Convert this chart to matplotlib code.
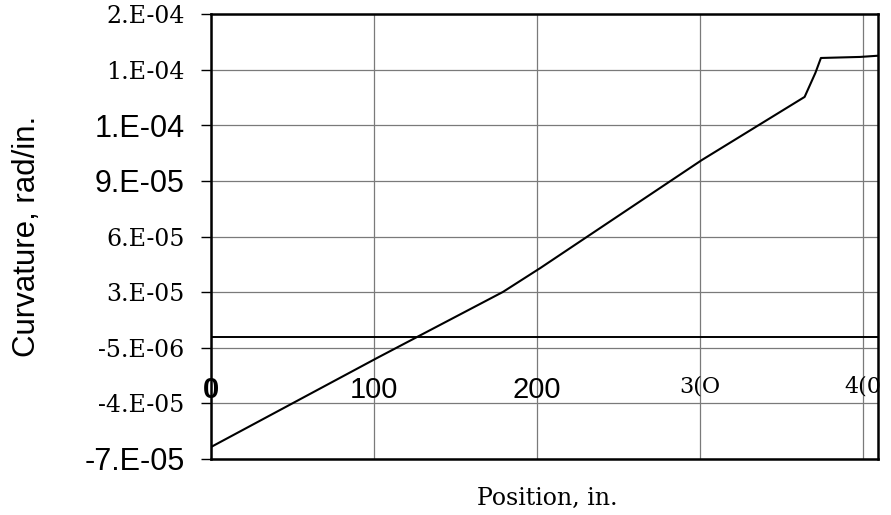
import matplotlib
matplotlib.use("Agg")
import matplotlib.pyplot as plt

# ---- data ----
position = [0, 101.8, 179, 202, 301, 364, 370.6, 374, 398, 409]
curvature = [-6.31e-5, -1.19e-5, 2.61e-5, 3.99e-5, 1.02e-4, 1.383e-4, 1.521e-4, 1.607e-4, 1.613e-4, 1.62e-4]

y_tick_values = [-7.0e-5, -3.8e-5, -6.0e-6, 2.6e-5, 5.8e-5, 9.0e-5, 1.22e-4, 1.54e-4, 1.86e-4]
y_tick_labels = ["-7.E-05", "-4.E-05", "-5.E-06", "3.E-05", "6.E-05", "9.E-05", "1.E-04", "1.E-04", "2.E-04"]
y_tick_serif = [False, True, True, True, True, False, False, True, True]

x_tick_values = [0, 100, 200, 300, 400]
x_tick_labels = ["0", "100", "200", "3(O", "4(0"]
x_tick_serif = [False, False, False, True, True]

SANS = ["Liberation Sans", "DejaVu Sans"]
SERIF = ["DejaVu Serif", "Liberation Serif"]

fig = plt.figure(figsize=(8.91, 5.15), dpi=100)
ax = fig.add_axes([211 / 891, 56 / 515, 667 / 891, 445 / 515])

ax.set_xlim(0, 409)
ax.set_ylim(y_tick_values[0], y_tick_values[-1])

# grid
ax.set_yticks(y_tick_values)
ax.set_yticklabels(y_tick_labels)
ax.set_xticks(x_tick_values)
ax.set_xticklabels(x_tick_labels)
ax.grid(True, color="#7a7a7a", linewidth=0.9)
ax.set_axisbelow(True)

# zero axis line
ax.axhline(0, color="black", linewidth=1.4, zorder=2)

# data line
ax.plot(position, curvature, color="black", linewidth=1.5, zorder=3)

for s in ax.spines.values():
    s.set_linewidth(1.8)
    s.set_color("black")

ax.tick_params(axis="y", direction="out", length=7, width=1.0, pad=12)
ax.tick_params(axis="x", length=0, pad=-60)

for lbl, serif in zip(ax.get_yticklabels(), y_tick_serif):
    if serif:
        lbl.set_fontfamily(SERIF)
        lbl.set_fontsize(17)
    else:
        lbl.set_fontfamily(SANS)
        lbl.set_fontsize(22)

for lbl, serif in zip(ax.get_xticklabels(), x_tick_serif):
    if serif:
        lbl.set_fontfamily(SERIF)
        lbl.set_fontsize(16)
    else:
        lbl.set_fontfamily(SANS)
        lbl.set_fontsize(21)
ax.get_xticklabels()[0].set_fontweight("bold")

fig.text(27 / 891, 1 - 236 / 515, "Curvature, rad/in.", rotation=90,
         ha="center", va="center", fontsize=22.5, family=SANS)
fig.text(547 / 891, 1 - 498 / 515, "Position, in.", ha="center", va="center",
         fontsize=17, family=SERIF)

fig.savefig("out.png", dpi=100)
